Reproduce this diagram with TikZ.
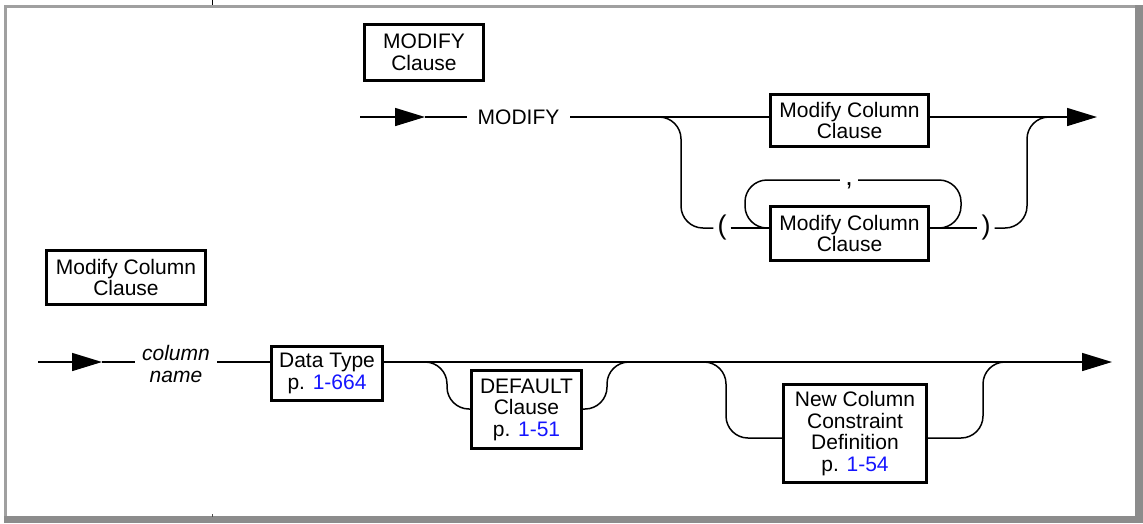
\documentclass[tikz,border=0pt]{standalone}
\usepackage{fontspec}
\setmainfont{Liberation Sans}
\usetikzlibrary{arrows.meta}
\definecolor{pageref}{RGB}{20,20,255}
\definecolor{framegray}{RGB}{140,140,140}
\definecolor{framelight}{RGB}{160,160,160}
\newcommand{\pref}[1]{p. \textcolor{pageref}{#1}}
\begin{document}
\begin{tikzpicture}[x=1pt,y=-1pt,
  txt/.style={font=\fontsize{21}{21.5}\selectfont},
  rule/.style={line width=1.5pt},
  box/.style={txt,draw,line width=3pt,align=center,inner sep=0pt},
  word/.style={txt,inner sep=0pt,align=center},
  punct/.style={font=\fontsize{27}{27}\selectfont,inner sep=0pt},
  fork/.style={rule,rounded corners=22pt},
  tip/.style={-{Triangle[length=30pt,width=18pt]}}]
\useasboundingbox (0,0) rectangle (1143,523);

% page frame with its shadowed lower and right edges
\fill[framelight] (4,5) rectangle (1143,8);
\fill[framelight] (4,5) rectangle (7,523);
\fill[framegray] (4,516) rectangle (1143,523);
\fill[framegray] (1135,5) rectangle (1143,523);
\draw[line width=1pt] (212,0) -- (212,5);
\draw[line width=0.8pt,black!70] (212,514) -- (212,517);

% headings
\node[box,minimum width=119pt,minimum height=56pt] (hdrA) at (424,52.5) {MODIFY\\Clause};
\node[box,minimum width=159pt,minimum height=54pt] (hdrB) at (126,277.5) {Modify Column\\Clause};

% ---- MODIFY clause ----
\coordinate (s1) at (360,117);
\coordinate (a1) at (425,117);
\coordinate (e1) at (1097,117);
\coordinate (yLoop) at (0,180);
\coordinate (yPar) at (0,228);
\node[word,minimum width=103pt] (kwmod) at (518.5,117) {MODIFY};
\node[box,minimum width=158pt,minimum height=52pt] (mcA) at (849.5,120.5) {Modify Column\\Clause};
\node[box,minimum width=158pt,minimum height=54pt] (mcB) at (849.5,233.5) {Modify Column\\Clause};
\node[punct,minimum width=17pt] (lp) at (722,228) {(};
\node[punct,minimum width=17pt] (rp) at (986,228) {)};
\node[punct,minimum width=18pt,anchor=base] (cm) at (849,185) {,};

\draw[rule,tip] (s1) -- (a1);
\draw[rule] (a1) -- (kwmod.west);
\draw[rule] (kwmod.east) -- (mcA.west |- s1);
\draw[fork] (kwmod.east) -- (681,117) -- (681,228) -- (lp.west |- yPar);
\draw[rule] (lp.east |- yPar) -- (mcB.west |- yPar);
\draw[fork] (mcB.west |- yPar) -- (745,228) -- (745,180) -- (cm.west |- yLoop);
\draw[fork] (cm.east |- yLoop) -- (961,180) -- (961,228) -- (mcB.east |- yPar);
\draw[rule] (mcB.east |- yPar) -- (rp.west |- yPar);
\draw[fork] (rp.east |- yPar) -- (1027,228) -- (1027,117) -- (1060,117);
\draw[rule,tip] (mcA.east |- s1) -- (e1);

% ---- Modify Column clause ----
\coordinate (s2) at (38,362);
\coordinate (a2) at (102,362);
\coordinate (e2) at (1112,362);
\coordinate (yDf) at (0,409);
\coordinate (yNc) at (0,438);
\node[word,font=\fontsize{21}{22}\selectfont\itshape,minimum width=82pt] (colnm) at (176,364) {column\\name};
\node[box,minimum width=111pt,minimum height=54pt] (dtype) at (327,373.5) {Data Type\\\pref{1-664}};
\node[box,minimum width=110pt,minimum height=78pt] (dflt) at (526.5,409.5) {DEFAULT\\Clause\\\pref{1-51}};
\node[box,minimum width=143pt,minimum height=98pt] (ncc) at (855,433.5) {New Column\\Constraint\\Definition\\\pref{1-54}};

\draw[rule,tip] (s2) -- (a2);
\draw[rule] (a2) -- (colnm.west |- s2);
\draw[rule] (colnm.east |- s2) -- (dtype.west |- s2);
\draw[rule,tip] (dtype.east |- s2) -- (e2);
\draw[fork] (dtype.east |- s2) -- (447,362) -- (447,409) -- (dflt.west |- yDf);
\draw[fork] (dflt.east |- yDf) -- (607,409) -- (607,362) -- (650,362);
\draw[fork] (650,362) -- (726,362) -- (726,438) -- (ncc.west |- yNc);
\draw[fork] (ncc.east |- yNc) -- (983,438) -- (983,362) -- (1030,362);
\end{tikzpicture}
\end{document}
